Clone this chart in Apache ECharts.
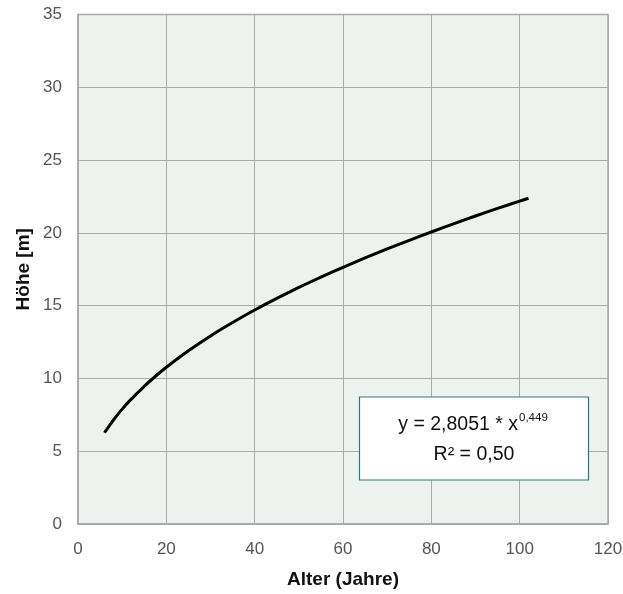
<!DOCTYPE html>
<html>
<head>
<meta charset="utf-8">
<script src="https://cdn.jsdelivr.net/npm/echarts@6/dist/echarts.min.js"></script>
<style>
html,body{margin:0;padding:0;background:#fff;}
#c{width:623px;height:594px;}
</style>
</head>
<body>
<div id="c"></div>
<script>
const ageYears = [6, 8, 10, 12, 15, 18, 20, 25, 30, 35, 40, 45, 50, 55, 60, 65, 70, 75, 80, 85, 90, 95, 100, 102];
const heightM = [6.27, 7.14, 7.89, 8.56, 9.46, 10.27, 10.77, 11.90, 12.92, 13.84, 14.70, 15.50, 16.25, 16.96, 17.63, 18.28, 18.90, 19.49, 20.06, 20.62, 21.16, 21.68, 22.18, 22.38];
const xTitle = 'Alter (Jahre)';
const yTitle = 'Höhe [m]';
const eqLine1 = 'y = 2,8051 * x';
const eqExp = '0,449';
const eqLine2 = 'R² = 0,50';

const chart = echarts.init(document.getElementById('c'));
const font = '"Liberation Sans", Arial, Helvetica, sans-serif';
chart.setOption({
  animation: false,
  textStyle: {fontFamily: font},
  grid: {left: 78, top: 14.5, right: 15, bottom: 70, outerBoundsMode: 'none', containLabel: false, show: true, backgroundColor: '#eef2ef', borderColor: '#a8a8a8', borderWidth: 1.5},
  xAxis: {
    type: 'value', min: 0, max: 120, interval: 20,
    name: xTitle, nameLocation: 'middle', nameGap: 46, nameMoveOverlap: false,
    nameTextStyle: {fontFamily: font, fontSize: 19, fontWeight: 'bold', color: '#111'},
    axisLine: {show: true, lineStyle: {color: '#a8a8a8', width: 1.5}},
    axisTick: {show: false},
    axisLabel: {fontFamily: font, fontSize: 17, color: '#555', margin: 17},
    splitLine: {show: true, lineStyle: {color: '#aaaaaa', width: 1}}
  },
  yAxis: {
    type: 'value', min: 0, max: 35, interval: 5,
    name: yTitle, nameLocation: 'middle', nameGap: 45, nameRotate: 90, nameMoveOverlap: false,
    nameTextStyle: {fontFamily: font, fontSize: 19, fontWeight: 'bold', color: '#111'},
    axisLine: {show: true, lineStyle: {color: '#a8a8a8', width: 1.5}},
    axisTick: {show: false},
    axisLabel: {fontFamily: font, fontSize: 17, color: '#555', margin: 16},
    splitLine: {show: true, lineStyle: {color: '#aaaaaa', width: 1}}
  },
  series: [{
    type: 'line',
    data: ageYears.map((a, i) => [a, heightM[i]]),
    smooth: 0.2,
    showSymbol: false,
    lineStyle: {color: '#000', width: 3}
  }],
  graphic: [
    {type: 'rect', z: 100, shape: {x: 359.5, y: 397, width: 229, height: 83}, style: {fill: '#fff', stroke: '#2a7a78', lineWidth: 1.2}},
    {type: 'text', z: 101, x: 473, y: 425, style: {
      text: '{a|' + eqLine1 + '}{b|' + eqExp + '}',
      align: 'center', verticalAlign: 'middle',
      rich: {
        a: {fontFamily: font, fontSize: 19.5, fill: '#111'},
        b: {fontFamily: font, fontSize: 11.5, fill: '#111', padding: [0, 0, 14, 1]}
      }
    }},
    {type: 'text', z: 101, x: 474, y: 455, style: {text: eqLine2, fontFamily: font, fontSize: 19.5, fill: '#111', align: 'center', verticalAlign: 'middle'}}
  ]
});
</script>
</body>
</html>
